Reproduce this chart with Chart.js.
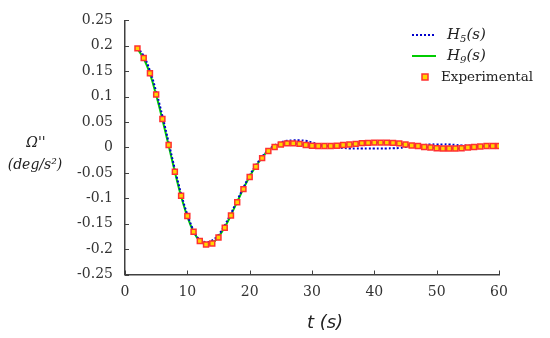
<!DOCTYPE html>
<html><head><meta charset="utf-8">
<script src="https://cdn.jsdelivr.net/npm/chart.js@4/dist/chart.umd.min.js"></script>
<style>html,body{margin:0;padding:0;background:#fff}#wrap{width:550px;height:338px;position:relative}</style>
</head><body><div id="wrap"><canvas id="c"></canvas></div>
<script>
const xTicks = [0, 10, 20, 30, 40, 50, 60];
const yTicks = [-0.25, -0.2, -0.15, -0.1, -0.05, 0, 0.05, 0.1, 0.15, 0.2, 0.25];
const yTickLabels = ['-0.25', '-0.2', '-0.15', '-0.1', '-0.05', '0', '0.05', '0.1', '0.15', '0.2', '0.25'];

const expT = [2,3,4,5,6,7,8,9,10,11,12,13,14,15,16,17,18,19,20,21,22,23,24,25,26,27,28,29,30,31,32,33,34,35,36,37,38,39,40,41,42,43,44,45,46,47,48,49,50,51,52,53,54,55,56,57,58,59,60];
const expVals = [0.195,0.176,0.146,0.104,0.056,0.005,-0.048,-0.095,-0.135,-0.166,-0.184,-0.191,-0.189,-0.177,-0.158,-0.134,-0.108,-0.082,-0.058,-0.038,-0.021,-0.007,0.001,0.006,0.008,0.008,0.007,0.005,0.0035,0.003,0.003,0.003,0.0035,0.005,0.006,0.007,0.0085,0.009,0.0095,0.0095,0.0095,0.009,0.008,0.006,0.004,0.003,0.001,0,-0.0015,-0.002,-0.002,-0.002,-0.0015,0,0.001,0.002,0.003,0.003,0.003];

const h5T = [2,3,4,5,6,7,8,9,10,11,12,13,14,15,16,17,18,19,20,21,22,23,24,25,26,27,28,29,30,31,32,33,34,35,36,37,38,39,40,41,42,43,44,45,46,47,48,49,50,51,52,53,54,55,56,57,58,59,60];
const h5Vals = [0.197,0.180,0.151,0.110,0.062,0.010,-0.043,-0.091,-0.132,-0.163,-0.182,-0.186,-0.183,-0.172,-0.153,-0.130,-0.104,-0.079,-0.055,-0.035,-0.018,-0.005,0.004,0.010,0.013,0.014,0.014,0.013,0.010,0.006,0.004,0.002,0.000,-0.001,-0.002,-0.002,-0.002,-0.002,-0.002,-0.002,-0.002,-0.0015,-0.001,0.001,0.003,0.004,0.005,0.006,0.006,0.006,0.006,0.005,0.004,0.004,0.003,0.003,0.003,0.003,0.003];

const h9T = [2,3,4,5,6,7,8,9,10,11,12,13,14,15,16,17,18,19,20,21,22,23,24,25,26,27,28,29,30,31,32,33,34,35,36,37,38,39,40,41,42,43,44,45,46,47,48,49,50,51,52,53,54,55,56,57,58,59,60];
const h9Vals = [0.194,0.175,0.145,0.103,0.055,0.004,-0.048,-0.096,-0.136,-0.166,-0.184,-0.190,-0.188,-0.176,-0.157,-0.133,-0.107,-0.081,-0.057,-0.037,-0.020,-0.006,0.002,0.006,0.008,0.008,0.007,0.005,0.0035,0.003,0.003,0.003,0.0035,0.005,0.006,0.007,0.0085,0.009,0.0095,0.0095,0.0095,0.009,0.008,0.006,0.004,0.003,0.001,0,-0.0015,-0.002,-0.002,-0.002,-0.0015,0,0.001,0.002,0.003,0.003,0.003];

const toXY = (ts, vs) => ts.map((t, i) => ({x: t, y: vs[i]}));
const AXIS = '#404040';
const SERIF = '"DejaVu Serif", "Liberation Serif", serif';

const extras = {
  id: 'extras',
  beforeDatasetsDraw(chart) {
    const ctx = chart.ctx, xs = chart.scales.x, ys = chart.scales.y;
    ctx.save();
    ctx.strokeStyle = AXIS; ctx.lineWidth = 1;
    xTicks.forEach(v => {
      const px = Math.round(xs.getPixelForValue(v)) + 0.5;
      ctx.beginPath(); ctx.moveTo(px, ys.bottom); ctx.lineTo(px, ys.bottom - 4); ctx.stroke();
    });
    yTicks.forEach(v => {
      const py = Math.round(ys.getPixelForValue(v)) + 0.5;
      ctx.beginPath(); ctx.moveTo(xs.left, py); ctx.lineTo(xs.left + 4, py); ctx.stroke();
    });
    ctx.restore();
  },
  afterDraw(chart) {
    const ctx = chart.ctx;
    ctx.save();
    ctx.fillStyle = '#222';
    ctx.textBaseline = 'middle';
    // y-axis title
    ctx.textAlign = 'center';
    ctx.font = 'italic 14px ' + SERIF;
    ctx.fillText("Ω''", 36, 143);
    ctx.fillText('(deg/s²)', 35, 165);
    // x-axis title
    ctx.font = 'italic 18px "DejaVu Sans", sans-serif';
    ctx.fillText('t (s)', 325, 323);
    // legend
    ctx.textAlign = 'left';
    const items = [
      {y: 35, sub: '5', kind: 'dot'},
      {y: 56, sub: '9', kind: 'line'},
      {y: 77, kind: 'marker', text: 'Experimental'}
    ];
    items.forEach(it => {
      if (it.kind === 'dot') {
        ctx.strokeStyle = '#0000CC'; ctx.lineWidth = 2; ctx.setLineDash([2, 2]);
        ctx.beginPath(); ctx.moveTo(412, it.y); ctx.lineTo(436, it.y); ctx.stroke(); ctx.setLineDash([]);
      } else if (it.kind === 'line') {
        ctx.strokeStyle = '#00CC00'; ctx.lineWidth = 2;
        ctx.beginPath(); ctx.moveTo(412, it.y); ctx.lineTo(436, it.y); ctx.stroke();
      } else {
        ctx.fillStyle = '#FFD400'; ctx.strokeStyle = '#FF3030'; ctx.lineWidth = 1.5;
        ctx.fillRect(422, it.y - 3, 6, 6); ctx.strokeRect(422, it.y - 3, 6, 6);
      }
      ctx.fillStyle = '#222';
      if (it.kind === 'marker') {
        ctx.font = '13.5px ' + SERIF;
        ctx.fillText(it.text, 441, it.y);
      } else {
        ctx.font = 'italic 15px ' + SERIF;
        let x = 447;
        ctx.fillText('H', x, it.y); x += ctx.measureText('H').width;
        ctx.font = 'italic 10px ' + SERIF;
        ctx.fillText(it.sub, x, it.y + 4); x += ctx.measureText(it.sub).width;
        ctx.font = 'italic 15px ' + SERIF;
        ctx.fillText('(s)', x, it.y);
      }
    });
    ctx.restore();
  }
};

new Chart(document.getElementById('c'), {
  type: 'line',
  data: {
    datasets: [
      {label: 'Experimental', data: toXY(expT, expVals), showLine: false, pointStyle: 'rect',
       pointRadius: 3.5, pointBorderWidth: 1.5, pointBorderColor: '#FF3030', pointBackgroundColor: '#FFD400'},
      {label: 'H5(s)', data: toXY(h5T, h5Vals), borderColor: '#0000CC', borderWidth: 2, borderDash: [2, 2],
       pointRadius: 0, tension: 0.4, fill: false},
      {label: 'H9(s)', data: toXY(h9T, h9Vals), borderColor: '#00CC00', borderWidth: 2,
       pointRadius: 0, tension: 0.4, fill: false}
    ]
  },
  options: {
    responsive: true, maintainAspectRatio: false, animation: false,
    layout: {padding: {top: 10, right: 51, bottom: 0, left: 0}},
    plugins: {legend: {display: false}, tooltip: {enabled: false}},
    scales: {
      x: {
        type: 'linear', min: 0, max: 60,
        afterBuildTicks: s => { s.ticks = xTicks.map(v => ({value: v})); },
        afterFit: s => { s.height = 63.5; },
        grid: {display: false, drawTicks: false},
        border: {display: true, color: AXIS, width: 1.5},
        ticks: {font: {family: SERIF, size: 14}, color: '#333', padding: 9, maxRotation: 0, autoSkip: false}
      },
      y: {
        type: 'linear', min: -0.25, max: 0.25,
        afterBuildTicks: s => { s.ticks = yTicks.map(v => ({value: v})); },
        afterFit: s => { s.width = 125; },
        grid: {display: false, drawTicks: false},
        border: {display: true, color: AXIS, width: 1.5},
        ticks: {font: {family: SERIF, size: 14}, color: '#333', padding: 12, autoSkip: false,
                callback: (v, i) => yTickLabels[i]}
      }
    }
  },
  plugins: [extras]
});
</script></body></html>
